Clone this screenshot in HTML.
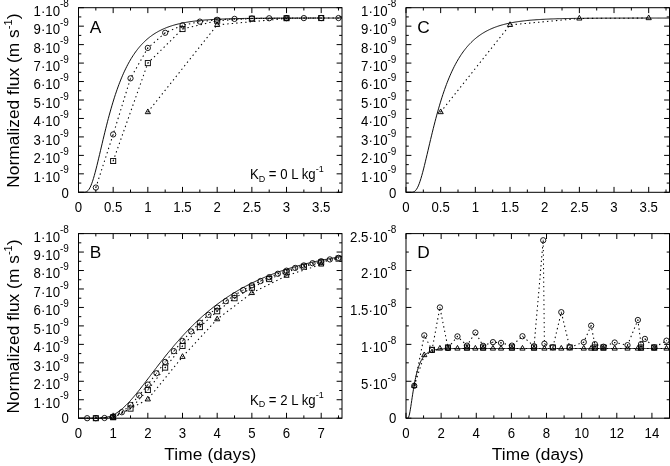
<!DOCTYPE html>
<html><head><meta charset="utf-8"><title>Normalized flux</title>
<style>html,body{margin:0;padding:0;background:#fff}svg{display:block}</style></head>
<body>
<svg width="670" height="466" viewBox="0 0 670 466" font-family="'Liberation Sans', sans-serif" fill="#000">
<rect width="670" height="466" fill="#fff"/>
<g id="panelA">
<path d="M78.50 192.30 L79.38 192.30 L80.26 192.30 L81.14 192.30 L82.01 192.30 L82.89 192.30 L83.77 192.29 L84.65 192.23 L85.53 192.09 L86.41 191.78 L87.28 191.24 L88.16 190.42 L89.04 189.26 L89.92 187.76 L90.80 185.91 L91.67 183.74 L92.55 181.25 L93.43 178.50 L94.31 175.50 L95.19 172.31 L96.07 168.94 L96.95 165.45 L97.82 161.85 L98.70 158.18 L99.58 154.46 L100.46 150.72 L101.34 146.97 L102.22 143.24 L103.09 139.53 L103.97 135.86 L104.85 132.24 L105.73 128.68 L106.61 125.18 L107.48 121.75 L108.36 118.40 L109.24 115.13 L110.12 111.94 L111.00 108.83 L111.88 105.80 L112.75 102.86 L113.63 100.00 L114.51 97.22 L115.39 94.53 L116.27 91.92 L117.15 89.39 L118.03 86.94 L118.90 84.57 L119.78 82.27 L120.66 80.05 L121.54 77.90 L122.42 75.82 L123.29 73.82 L124.17 71.87 L125.05 70.00 L125.93 68.19 L126.81 66.43 L127.69 64.74 L128.56 63.11 L129.44 61.53 L130.32 60.01 L131.20 58.54 L132.08 57.12 L132.96 55.75 L133.84 54.43 L134.71 53.15 L135.59 51.92 L136.47 50.73 L137.35 49.58 L138.23 48.47 L139.11 47.40 L139.98 46.37 L140.86 45.37 L141.74 44.41 L142.62 43.48 L143.50 42.59 L144.38 41.72 L145.25 40.89 L146.13 40.09 L147.01 39.31 L147.89 38.56 L148.77 37.84 L149.64 37.14 L150.52 36.47 L151.40 35.82 L152.28 35.20 L153.16 34.59 L154.04 34.01 L154.91 33.45 L155.79 32.90 L156.67 32.38 L157.55 31.88 L158.43 31.39 L159.31 30.92 L160.19 30.47 L161.06 30.03 L161.94 29.61 L162.82 29.20 L163.70 28.81 L164.58 28.43 L165.45 28.06 L166.33 27.71 L167.21 27.37 L168.09 27.04 L168.97 26.72 L169.85 26.42 L170.73 26.12 L171.60 25.84 L172.48 25.56 L173.36 25.30 L174.24 25.04 L175.12 24.79 L176.00 24.56 L176.87 24.33 L177.75 24.11 L178.63 23.89 L179.51 23.69 L180.39 23.49 L181.26 23.30 L182.14 23.11 L183.02 22.93 L183.90 22.76 L184.78 22.59 L185.66 22.43 L186.53 22.28 L187.41 22.13 L188.29 21.98 L189.17 21.85 L190.05 21.71 L190.93 21.58 L191.81 21.46 L192.68 21.34 L193.56 21.22 L194.44 21.11 L195.32 21.00 L196.20 20.90 L197.07 20.80 L197.95 20.70 L198.83 20.60 L199.71 20.51 L200.59 20.43 L201.47 20.34 L202.34 20.26 L203.22 20.18 L204.10 20.11 L204.98 20.03 L205.86 19.96 L206.74 19.90 L207.62 19.83 L208.49 19.77 L209.37 19.71 L210.25 19.65 L211.13 19.59 L212.01 19.54 L212.89 19.48 L213.76 19.43 L214.64 19.38 L215.52 19.34 L216.40 19.29 L217.28 19.25 L218.16 19.20 L219.03 19.16 L219.91 19.12 L220.79 19.09 L221.67 19.05 L222.55 19.01 L223.42 18.98 L224.30 18.95 L225.18 18.91 L226.06 18.88 L226.94 18.85 L227.82 18.82 L228.69 18.80 L229.57 18.77 L230.45 18.74 L231.33 18.72 L232.21 18.70 L233.09 18.67 L233.97 18.65 L234.84 18.63 L235.72 18.61 L236.60 18.59 L237.48 18.57 L238.36 18.55 L239.24 18.53 L240.11 18.51 L240.99 18.50 L241.87 18.48 L242.75 18.47 L243.63 18.45 L244.50 18.44 L245.38 18.42 L246.26 18.41 L247.14 18.40 L248.02 18.38 L248.90 18.37 L249.78 18.36 L250.65 18.35 L251.53 18.34 L252.41 18.33 L253.29 18.32 L254.17 18.31 L255.05 18.30 L255.92 18.29 L256.80 18.28 L257.68 18.27 L258.56 18.26 L259.44 18.25 L260.31 18.25 L261.19 18.24 L262.07 18.23 L262.95 18.23 L263.83 18.22 L264.71 18.21 L265.59 18.21 L266.46 18.20 L267.34 18.19 L268.22 18.19 L269.10 18.18 L269.98 18.18 L270.85 18.17 L271.73 18.17 L272.61 18.16 L273.49 18.16 L274.37 18.16 L275.25 18.15 L276.12 18.15 L277.00 18.14 L277.88 18.14 L278.76 18.14 L279.64 18.13 L280.52 18.13 L281.39 18.13 L282.27 18.12 L283.15 18.12 L284.03 18.12 L284.91 18.11 L285.79 18.11 L286.66 18.11 L287.54 18.11 L288.42 18.10 L289.30 18.10 L290.18 18.10 L291.06 18.10 L291.94 18.10 L292.81 18.09 L293.69 18.09 L294.57 18.09 L295.45 18.09 L296.33 18.09 L297.20 18.08 L298.08 18.08 L298.96 18.08 L299.84 18.08 L300.72 18.08 L301.60 18.08 L302.48 18.07 L303.35 18.07 L304.23 18.07 L305.11 18.07 L305.99 18.07 L306.87 18.07 L307.75 18.07 L308.62 18.07 L309.50 18.07 L310.38 18.06 L311.26 18.06 L312.14 18.06 L313.01 18.06 L313.89 18.06 L314.77 18.06 L315.65 18.06 L316.53 18.06 L317.41 18.06 L318.28 18.06 L319.16 18.06 L320.04 18.06 L320.92 18.06 L321.80 18.05 L322.68 18.05 L323.56 18.05 L324.43 18.05 L325.31 18.05 L326.19 18.05 L327.07 18.05 L327.95 18.05 L328.83 18.05 L329.70 18.05 L330.58 18.05 L331.46 18.05 L332.34 18.05 L333.22 18.05 L334.10 18.05 L334.97 18.05 L335.85 18.05 L336.73 18.05 L337.61 18.05 L338.49 18.05 L339.37 18.05 L340.24 18.05 L341.12 18.05 L342.00 18.05" stroke="#000" stroke-width="0.95" fill="none" stroke-linejoin="round"/>
<path d="M95.84 187.57 L113.17 134.42 L130.51 78.32 L147.84 47.92 L165.18 32.78 L182.51 25.30 L199.85 21.62 L217.18 19.80 L234.52 18.91 L251.86 18.47 L269.19 18.25 L286.53 18.14 L303.86 18.09 L321.20 18.06 L338.53 18.05" stroke="#000" stroke-width="1.05" fill="none" stroke-dasharray="1.4 3.1" stroke-linejoin="round"/>
<circle cx="95.84" cy="187.57" r="2.65" fill="none" stroke="#000" stroke-width="0.9"/>
<rect x="95.34" y="187.07" width="1" height="1" fill="#000" opacity="0.8"/>
<circle cx="113.17" cy="134.42" r="2.65" fill="none" stroke="#000" stroke-width="0.9"/>
<rect x="112.67" y="133.92" width="1" height="1" fill="#000" opacity="0.8"/>
<circle cx="130.51" cy="78.32" r="2.65" fill="none" stroke="#000" stroke-width="0.9"/>
<rect x="130.01" y="77.82" width="1" height="1" fill="#000" opacity="0.8"/>
<circle cx="147.84" cy="47.92" r="2.65" fill="none" stroke="#000" stroke-width="0.9"/>
<rect x="147.34" y="47.42" width="1" height="1" fill="#000" opacity="0.8"/>
<circle cx="165.18" cy="32.78" r="2.65" fill="none" stroke="#000" stroke-width="0.9"/>
<rect x="164.68" y="32.28" width="1" height="1" fill="#000" opacity="0.8"/>
<circle cx="182.51" cy="25.30" r="2.65" fill="none" stroke="#000" stroke-width="0.9"/>
<rect x="182.01" y="24.80" width="1" height="1" fill="#000" opacity="0.8"/>
<circle cx="199.85" cy="21.62" r="2.65" fill="none" stroke="#000" stroke-width="0.9"/>
<rect x="199.35" y="21.12" width="1" height="1" fill="#000" opacity="0.8"/>
<circle cx="217.18" cy="19.80" r="2.65" fill="none" stroke="#000" stroke-width="0.9"/>
<rect x="216.68" y="19.30" width="1" height="1" fill="#000" opacity="0.8"/>
<circle cx="234.52" cy="18.91" r="2.65" fill="none" stroke="#000" stroke-width="0.9"/>
<rect x="234.02" y="18.41" width="1" height="1" fill="#000" opacity="0.8"/>
<circle cx="251.86" cy="18.47" r="2.65" fill="none" stroke="#000" stroke-width="0.9"/>
<rect x="251.36" y="17.97" width="1" height="1" fill="#000" opacity="0.8"/>
<circle cx="269.19" cy="18.25" r="2.65" fill="none" stroke="#000" stroke-width="0.9"/>
<rect x="268.69" y="17.75" width="1" height="1" fill="#000" opacity="0.8"/>
<circle cx="286.53" cy="18.14" r="2.65" fill="none" stroke="#000" stroke-width="0.9"/>
<rect x="286.03" y="17.64" width="1" height="1" fill="#000" opacity="0.8"/>
<circle cx="303.86" cy="18.09" r="2.65" fill="none" stroke="#000" stroke-width="0.9"/>
<rect x="303.36" y="17.59" width="1" height="1" fill="#000" opacity="0.8"/>
<circle cx="321.20" cy="18.06" r="2.65" fill="none" stroke="#000" stroke-width="0.9"/>
<rect x="320.70" y="17.56" width="1" height="1" fill="#000" opacity="0.8"/>
<circle cx="338.53" cy="18.05" r="2.65" fill="none" stroke="#000" stroke-width="0.9"/>
<rect x="338.03" y="17.55" width="1" height="1" fill="#000" opacity="0.8"/>
<path d="M113.17 161.00 L147.84 63.12 L182.51 29.04 L217.18 20.71 L251.86 18.69 L286.53 18.20 L321.20 18.08" stroke="#000" stroke-width="1.05" fill="none" stroke-dasharray="1.4 3.1" stroke-linejoin="round"/>
<rect x="110.62" y="158.45" width="5.1" height="5.1" fill="none" stroke="#000" stroke-width="0.9"/>
<rect x="112.67" y="160.50" width="1" height="1" fill="#000" opacity="0.8"/>
<rect x="145.29" y="60.57" width="5.1" height="5.1" fill="none" stroke="#000" stroke-width="0.9"/>
<rect x="147.34" y="62.62" width="1" height="1" fill="#000" opacity="0.8"/>
<rect x="179.96" y="26.49" width="5.1" height="5.1" fill="none" stroke="#000" stroke-width="0.9"/>
<rect x="182.01" y="28.54" width="1" height="1" fill="#000" opacity="0.8"/>
<rect x="214.63" y="18.16" width="5.1" height="5.1" fill="none" stroke="#000" stroke-width="0.9"/>
<rect x="216.68" y="20.21" width="1" height="1" fill="#000" opacity="0.8"/>
<rect x="249.31" y="16.14" width="5.1" height="5.1" fill="none" stroke="#000" stroke-width="0.9"/>
<rect x="251.36" y="18.19" width="1" height="1" fill="#000" opacity="0.8"/>
<rect x="283.98" y="15.65" width="5.1" height="5.1" fill="none" stroke="#000" stroke-width="0.9"/>
<rect x="286.03" y="17.70" width="1" height="1" fill="#000" opacity="0.8"/>
<rect x="318.65" y="15.53" width="5.1" height="5.1" fill="none" stroke="#000" stroke-width="0.9"/>
<rect x="320.70" y="17.58" width="1" height="1" fill="#000" opacity="0.8"/>
<path d="M147.84 112.06 L217.18 24.88 L286.53 18.44" stroke="#000" stroke-width="1.05" fill="none" stroke-dasharray="1.4 3.1" stroke-linejoin="round"/>
<path d="M147.84 108.96L150.44 113.66L145.24 113.66Z" fill="none" stroke="#000" stroke-width="0.95"/>
<rect x="147.34" y="111.56" width="1" height="1" fill="#000" opacity="0.8"/>
<path d="M217.18 21.78L219.78 26.48L214.58 26.48Z" fill="none" stroke="#000" stroke-width="0.95"/>
<rect x="216.68" y="24.38" width="1" height="1" fill="#000" opacity="0.8"/>
<path d="M286.53 15.34L289.13 20.04L283.93 20.04Z" fill="none" stroke="#000" stroke-width="0.95"/>
<rect x="286.03" y="17.94" width="1" height="1" fill="#000" opacity="0.8"/>
<rect x="78.5" y="7.7" width="263.50" height="184.60" fill="none" stroke="#000" stroke-width="1"/>
<path d="M78.50 192.3v-5.4M78.50 7.7v5.4M95.84 192.3v-2.8M95.84 7.7v2.8M113.17 192.3v-5.4M113.17 7.7v5.4M130.51 192.3v-2.8M130.51 7.7v2.8M147.84 192.3v-5.4M147.84 7.7v5.4M165.18 192.3v-2.8M165.18 7.7v2.8M182.51 192.3v-5.4M182.51 7.7v5.4M199.85 192.3v-2.8M199.85 7.7v2.8M217.18 192.3v-5.4M217.18 7.7v5.4M234.52 192.3v-2.8M234.52 7.7v2.8M251.86 192.3v-5.4M251.86 7.7v5.4M269.19 192.3v-2.8M269.19 7.7v2.8M286.53 192.3v-5.4M286.53 7.7v5.4M303.86 192.3v-2.8M303.86 7.7v2.8M321.20 192.3v-5.4M321.20 7.7v5.4M338.53 192.3v-2.8M338.53 7.7v2.8M78.5 192.30h5.4M342.0 192.30h-5.4M78.5 183.07h2.8M342.0 183.07h-2.8M78.5 173.84h5.4M342.0 173.84h-5.4M78.5 164.61h2.8M342.0 164.61h-2.8M78.5 155.38h5.4M342.0 155.38h-5.4M78.5 146.15h2.8M342.0 146.15h-2.8M78.5 136.92h5.4M342.0 136.92h-5.4M78.5 127.69h2.8M342.0 127.69h-2.8M78.5 118.46h5.4M342.0 118.46h-5.4M78.5 109.23h2.8M342.0 109.23h-2.8M78.5 100.00h5.4M342.0 100.00h-5.4M78.5 90.77h2.8M342.0 90.77h-2.8M78.5 81.54h5.4M342.0 81.54h-5.4M78.5 72.31h2.8M342.0 72.31h-2.8M78.5 63.08h5.4M342.0 63.08h-5.4M78.5 53.85h2.8M342.0 53.85h-2.8M78.5 44.62h5.4M342.0 44.62h-5.4M78.5 35.39h2.8M342.0 35.39h-2.8M78.5 26.16h5.4M342.0 26.16h-5.4M78.5 16.93h2.8M342.0 16.93h-2.8M78.5 7.70h5.4M342.0 7.70h-5.4" stroke="#000" stroke-width="1" fill="none"/>
<text transform="translate(78.50 211.80) scale(1 1.07)" text-anchor="middle" font-size="13.2">0</text>
<text transform="translate(113.17 211.80) scale(1 1.07)" text-anchor="middle" font-size="13.2">0.5</text>
<text transform="translate(147.84 211.80) scale(1 1.07)" text-anchor="middle" font-size="13.2">1</text>
<text transform="translate(182.51 211.80) scale(1 1.07)" text-anchor="middle" font-size="13.2">1.5</text>
<text transform="translate(217.18 211.80) scale(1 1.07)" text-anchor="middle" font-size="13.2">2</text>
<text transform="translate(251.86 211.80) scale(1 1.07)" text-anchor="middle" font-size="13.2">2.5</text>
<text transform="translate(286.53 211.80) scale(1 1.07)" text-anchor="middle" font-size="13.2">3</text>
<text transform="translate(321.20 211.80) scale(1 1.07)" text-anchor="middle" font-size="13.2">3.5</text>
<text transform="translate(68.90 197.50) scale(1 1.07)" text-anchor="end" font-size="13.2">0</text>
<text transform="translate(68.90 181.74) scale(1 1.07)" text-anchor="end" font-size="13.2">1·10<tspan dy="-7.76" font-size="10">-9</tspan></text>
<text transform="translate(68.90 163.28) scale(1 1.07)" text-anchor="end" font-size="13.2">2·10<tspan dy="-7.76" font-size="10">-9</tspan></text>
<text transform="translate(68.90 144.82) scale(1 1.07)" text-anchor="end" font-size="13.2">3·10<tspan dy="-7.76" font-size="10">-9</tspan></text>
<text transform="translate(68.90 126.36) scale(1 1.07)" text-anchor="end" font-size="13.2">4·10<tspan dy="-7.76" font-size="10">-9</tspan></text>
<text transform="translate(68.90 107.90) scale(1 1.07)" text-anchor="end" font-size="13.2">5·10<tspan dy="-7.76" font-size="10">-9</tspan></text>
<text transform="translate(68.90 89.44) scale(1 1.07)" text-anchor="end" font-size="13.2">6·10<tspan dy="-7.76" font-size="10">-9</tspan></text>
<text transform="translate(68.90 70.98) scale(1 1.07)" text-anchor="end" font-size="13.2">7·10<tspan dy="-7.76" font-size="10">-9</tspan></text>
<text transform="translate(68.90 52.52) scale(1 1.07)" text-anchor="end" font-size="13.2">8·10<tspan dy="-7.76" font-size="10">-9</tspan></text>
<text transform="translate(68.90 34.06) scale(1 1.07)" text-anchor="end" font-size="13.2">9·10<tspan dy="-7.76" font-size="10">-9</tspan></text>
<text transform="translate(68.90 15.60) scale(1 1.07)" text-anchor="end" font-size="13.2">1·10<tspan dy="-7.76" font-size="10">-8</tspan></text>
<text transform="translate(19.3 100.60) rotate(-90)" text-anchor="middle" letter-spacing="0.05" font-size="17.3">Normalized flux (m s<tspan dy="-7.6" font-size="11">-1</tspan><tspan dy="7.6">)</tspan></text>
<text x="89.70" y="32.50" font-size="17.3">A</text>
<text transform="translate(249.90 179.20) scale(1 1.07)" font-size="13.2">K<tspan dy="2.2" font-size="9">D</tspan><tspan dy="-2.2"> = 0 L kg</tspan><tspan dy="-6.6" font-size="9">-1</tspan></text>
</g>
<g id="panelC">
<path d="M406.00 192.30 L406.88 192.30 L407.76 192.30 L408.63 192.30 L409.51 192.30 L410.39 192.30 L411.27 192.29 L412.15 192.23 L413.03 192.09 L413.90 191.78 L414.78 191.24 L415.66 190.42 L416.54 189.26 L417.42 187.76 L418.30 185.91 L419.18 183.74 L420.05 181.25 L420.93 178.50 L421.81 175.50 L422.69 172.31 L423.57 168.94 L424.44 165.45 L425.32 161.85 L426.20 158.18 L427.08 154.46 L427.96 150.72 L428.84 146.97 L429.71 143.24 L430.59 139.53 L431.47 135.86 L432.35 132.24 L433.23 128.68 L434.11 125.18 L434.99 121.75 L435.86 118.40 L436.74 115.13 L437.62 111.94 L438.50 108.83 L439.38 105.80 L440.25 102.86 L441.13 100.00 L442.01 97.22 L442.89 94.53 L443.77 91.92 L444.65 89.39 L445.52 86.94 L446.40 84.57 L447.28 82.27 L448.16 80.05 L449.04 77.90 L449.92 75.82 L450.80 73.82 L451.67 71.87 L452.55 70.00 L453.43 68.19 L454.31 66.43 L455.19 64.74 L456.06 63.11 L456.94 61.53 L457.82 60.01 L458.70 58.54 L459.58 57.12 L460.46 55.75 L461.33 54.43 L462.21 53.15 L463.09 51.92 L463.97 50.73 L464.85 49.58 L465.73 48.47 L466.61 47.40 L467.48 46.37 L468.36 45.37 L469.24 44.41 L470.12 43.48 L471.00 42.59 L471.88 41.72 L472.75 40.89 L473.63 40.09 L474.51 39.31 L475.39 38.56 L476.27 37.84 L477.14 37.14 L478.02 36.47 L478.90 35.82 L479.78 35.20 L480.66 34.59 L481.54 34.01 L482.41 33.45 L483.29 32.90 L484.17 32.38 L485.05 31.88 L485.93 31.39 L486.81 30.92 L487.69 30.47 L488.56 30.03 L489.44 29.61 L490.32 29.20 L491.20 28.81 L492.08 28.43 L492.95 28.06 L493.83 27.71 L494.71 27.37 L495.59 27.04 L496.47 26.72 L497.35 26.42 L498.23 26.12 L499.10 25.84 L499.98 25.56 L500.86 25.30 L501.74 25.04 L502.62 24.79 L503.50 24.56 L504.37 24.33 L505.25 24.11 L506.13 23.89 L507.01 23.69 L507.89 23.49 L508.76 23.30 L509.64 23.11 L510.52 22.93 L511.40 22.76 L512.28 22.59 L513.16 22.43 L514.03 22.28 L514.91 22.13 L515.79 21.98 L516.67 21.85 L517.55 21.71 L518.43 21.58 L519.30 21.46 L520.18 21.34 L521.06 21.22 L521.94 21.11 L522.82 21.00 L523.70 20.90 L524.58 20.80 L525.45 20.70 L526.33 20.60 L527.21 20.51 L528.09 20.43 L528.97 20.34 L529.85 20.26 L530.72 20.18 L531.60 20.11 L532.48 20.03 L533.36 19.96 L534.24 19.90 L535.12 19.83 L535.99 19.77 L536.87 19.71 L537.75 19.65 L538.63 19.59 L539.51 19.54 L540.38 19.48 L541.26 19.43 L542.14 19.38 L543.02 19.34 L543.90 19.29 L544.78 19.25 L545.65 19.20 L546.53 19.16 L547.41 19.12 L548.29 19.09 L549.17 19.05 L550.05 19.01 L550.92 18.98 L551.80 18.95 L552.68 18.91 L553.56 18.88 L554.44 18.85 L555.32 18.82 L556.19 18.80 L557.07 18.77 L557.95 18.74 L558.83 18.72 L559.71 18.70 L560.59 18.67 L561.47 18.65 L562.34 18.63 L563.22 18.61 L564.10 18.59 L564.98 18.57 L565.86 18.55 L566.74 18.53 L567.61 18.51 L568.49 18.50 L569.37 18.48 L570.25 18.47 L571.13 18.45 L572.00 18.44 L572.88 18.42 L573.76 18.41 L574.64 18.40 L575.52 18.38 L576.40 18.37 L577.27 18.36 L578.15 18.35 L579.03 18.34 L579.91 18.33 L580.79 18.32 L581.67 18.31 L582.55 18.30 L583.42 18.29 L584.30 18.28 L585.18 18.27 L586.06 18.26 L586.94 18.25 L587.82 18.25 L588.69 18.24 L589.57 18.23 L590.45 18.23 L591.33 18.22 L592.21 18.21 L593.09 18.21 L593.96 18.20 L594.84 18.19 L595.72 18.19 L596.60 18.18 L597.48 18.18 L598.36 18.17 L599.23 18.17 L600.11 18.16 L600.99 18.16 L601.87 18.16 L602.75 18.15 L603.62 18.15 L604.50 18.14 L605.38 18.14 L606.26 18.14 L607.14 18.13 L608.02 18.13 L608.89 18.13 L609.77 18.12 L610.65 18.12 L611.53 18.12 L612.41 18.11 L613.29 18.11 L614.16 18.11 L615.04 18.11 L615.92 18.10 L616.80 18.10 L617.68 18.10 L618.56 18.10 L619.43 18.10 L620.31 18.09 L621.19 18.09 L622.07 18.09 L622.95 18.09 L623.83 18.09 L624.70 18.08 L625.58 18.08 L626.46 18.08 L627.34 18.08 L628.22 18.08 L629.10 18.08 L629.98 18.07 L630.85 18.07 L631.73 18.07 L632.61 18.07 L633.49 18.07 L634.37 18.07 L635.25 18.07 L636.12 18.07 L637.00 18.07 L637.88 18.06 L638.76 18.06 L639.64 18.06 L640.51 18.06 L641.39 18.06 L642.27 18.06 L643.15 18.06 L644.03 18.06 L644.91 18.06 L645.78 18.06 L646.66 18.06 L647.54 18.06 L648.42 18.06 L649.30 18.05 L650.18 18.05 L651.06 18.05 L651.93 18.05 L652.81 18.05 L653.69 18.05 L654.57 18.05 L655.45 18.05 L656.33 18.05 L657.20 18.05 L658.08 18.05 L658.96 18.05 L659.84 18.05 L660.72 18.05 L661.60 18.05 L662.47 18.05 L663.35 18.05 L664.23 18.05 L665.11 18.05 L665.99 18.05 L666.87 18.05 L667.74 18.05 L668.62 18.05 L669.50 18.05" stroke="#000" stroke-width="0.95" fill="none" stroke-linejoin="round"/>
<path d="M440.67 112.06 L510.01 24.88 L579.36 18.44 L648.70 18.06" stroke="#000" stroke-width="1.05" fill="none" stroke-dasharray="1.4 3.1" stroke-linejoin="round"/>
<path d="M440.67 108.96L443.27 113.66L438.07 113.66Z" fill="none" stroke="#000" stroke-width="0.95"/>
<rect x="440.17" y="111.56" width="1" height="1" fill="#000" opacity="0.8"/>
<path d="M510.01 21.78L512.61 26.48L507.41 26.48Z" fill="none" stroke="#000" stroke-width="0.95"/>
<rect x="509.51" y="24.38" width="1" height="1" fill="#000" opacity="0.8"/>
<path d="M579.36 15.34L581.96 20.04L576.76 20.04Z" fill="none" stroke="#000" stroke-width="0.95"/>
<rect x="578.86" y="17.94" width="1" height="1" fill="#000" opacity="0.8"/>
<path d="M648.70 14.96L651.30 19.66L646.10 19.66Z" fill="none" stroke="#000" stroke-width="0.95"/>
<rect x="648.20" y="17.56" width="1" height="1" fill="#000" opacity="0.8"/>
<rect x="406.0" y="7.7" width="263.50" height="184.60" fill="none" stroke="#000" stroke-width="1"/>
<path d="M406.00 192.3v-5.4M406.00 7.7v5.4M423.34 192.3v-2.8M423.34 7.7v2.8M440.67 192.3v-5.4M440.67 7.7v5.4M458.01 192.3v-2.8M458.01 7.7v2.8M475.34 192.3v-5.4M475.34 7.7v5.4M492.68 192.3v-2.8M492.68 7.7v2.8M510.01 192.3v-5.4M510.01 7.7v5.4M527.35 192.3v-2.8M527.35 7.7v2.8M544.68 192.3v-5.4M544.68 7.7v5.4M562.02 192.3v-2.8M562.02 7.7v2.8M579.36 192.3v-5.4M579.36 7.7v5.4M596.69 192.3v-2.8M596.69 7.7v2.8M614.03 192.3v-5.4M614.03 7.7v5.4M631.36 192.3v-2.8M631.36 7.7v2.8M648.70 192.3v-5.4M648.70 7.7v5.4M666.03 192.3v-2.8M666.03 7.7v2.8M406.0 192.30h5.4M669.5 192.30h-5.4M406.0 183.07h2.8M669.5 183.07h-2.8M406.0 173.84h5.4M669.5 173.84h-5.4M406.0 164.61h2.8M669.5 164.61h-2.8M406.0 155.38h5.4M669.5 155.38h-5.4M406.0 146.15h2.8M669.5 146.15h-2.8M406.0 136.92h5.4M669.5 136.92h-5.4M406.0 127.69h2.8M669.5 127.69h-2.8M406.0 118.46h5.4M669.5 118.46h-5.4M406.0 109.23h2.8M669.5 109.23h-2.8M406.0 100.00h5.4M669.5 100.00h-5.4M406.0 90.77h2.8M669.5 90.77h-2.8M406.0 81.54h5.4M669.5 81.54h-5.4M406.0 72.31h2.8M669.5 72.31h-2.8M406.0 63.08h5.4M669.5 63.08h-5.4M406.0 53.85h2.8M669.5 53.85h-2.8M406.0 44.62h5.4M669.5 44.62h-5.4M406.0 35.39h2.8M669.5 35.39h-2.8M406.0 26.16h5.4M669.5 26.16h-5.4M406.0 16.93h2.8M669.5 16.93h-2.8M406.0 7.70h5.4M669.5 7.70h-5.4" stroke="#000" stroke-width="1" fill="none"/>
<text transform="translate(406.00 211.80) scale(1 1.07)" text-anchor="middle" font-size="13.2">0</text>
<text transform="translate(440.67 211.80) scale(1 1.07)" text-anchor="middle" font-size="13.2">0.5</text>
<text transform="translate(475.34 211.80) scale(1 1.07)" text-anchor="middle" font-size="13.2">1</text>
<text transform="translate(510.01 211.80) scale(1 1.07)" text-anchor="middle" font-size="13.2">1.5</text>
<text transform="translate(544.68 211.80) scale(1 1.07)" text-anchor="middle" font-size="13.2">2</text>
<text transform="translate(579.36 211.80) scale(1 1.07)" text-anchor="middle" font-size="13.2">2.5</text>
<text transform="translate(614.03 211.80) scale(1 1.07)" text-anchor="middle" font-size="13.2">3</text>
<text transform="translate(648.70 211.80) scale(1 1.07)" text-anchor="middle" font-size="13.2">3.5</text>
<text transform="translate(396.40 197.50) scale(1 1.07)" text-anchor="end" font-size="13.2">0</text>
<text transform="translate(396.40 181.74) scale(1 1.07)" text-anchor="end" font-size="13.2">1·10<tspan dy="-7.76" font-size="10">-9</tspan></text>
<text transform="translate(396.40 163.28) scale(1 1.07)" text-anchor="end" font-size="13.2">2·10<tspan dy="-7.76" font-size="10">-9</tspan></text>
<text transform="translate(396.40 144.82) scale(1 1.07)" text-anchor="end" font-size="13.2">3·10<tspan dy="-7.76" font-size="10">-9</tspan></text>
<text transform="translate(396.40 126.36) scale(1 1.07)" text-anchor="end" font-size="13.2">4·10<tspan dy="-7.76" font-size="10">-9</tspan></text>
<text transform="translate(396.40 107.90) scale(1 1.07)" text-anchor="end" font-size="13.2">5·10<tspan dy="-7.76" font-size="10">-9</tspan></text>
<text transform="translate(396.40 89.44) scale(1 1.07)" text-anchor="end" font-size="13.2">6·10<tspan dy="-7.76" font-size="10">-9</tspan></text>
<text transform="translate(396.40 70.98) scale(1 1.07)" text-anchor="end" font-size="13.2">7·10<tspan dy="-7.76" font-size="10">-9</tspan></text>
<text transform="translate(396.40 52.52) scale(1 1.07)" text-anchor="end" font-size="13.2">8·10<tspan dy="-7.76" font-size="10">-9</tspan></text>
<text transform="translate(396.40 34.06) scale(1 1.07)" text-anchor="end" font-size="13.2">9·10<tspan dy="-7.76" font-size="10">-9</tspan></text>
<text transform="translate(396.40 15.60) scale(1 1.07)" text-anchor="end" font-size="13.2">1·10<tspan dy="-7.76" font-size="10">-8</tspan></text>
<text x="417.20" y="32.50" font-size="17.3">C</text>
</g>
<g id="panelB">
<path d="M78.50 418.20 L79.38 418.20 L80.26 418.20 L81.14 418.20 L82.01 418.20 L82.89 418.20 L83.77 418.20 L84.65 418.20 L85.53 418.20 L86.41 418.20 L87.28 418.20 L88.16 418.20 L89.04 418.20 L89.92 418.20 L90.80 418.20 L91.67 418.20 L92.55 418.20 L93.43 418.20 L94.31 418.19 L95.19 418.19 L96.07 418.18 L96.95 418.17 L97.82 418.15 L98.70 418.12 L99.58 418.09 L100.46 418.04 L101.34 417.98 L102.22 417.91 L103.09 417.81 L103.97 417.70 L104.85 417.56 L105.73 417.40 L106.61 417.22 L107.48 417.01 L108.36 416.77 L109.24 416.50 L110.12 416.20 L111.00 415.86 L111.88 415.50 L112.75 415.10 L113.63 414.67 L114.51 414.21 L115.39 413.71 L116.27 413.18 L117.15 412.61 L118.03 412.02 L118.90 411.39 L119.78 410.73 L120.66 410.04 L121.54 409.32 L122.42 408.58 L123.29 407.80 L124.17 407.00 L125.05 406.17 L125.93 405.32 L126.81 404.44 L127.69 403.54 L128.56 402.62 L129.44 401.68 L130.32 400.71 L131.20 399.73 L132.08 398.73 L132.96 397.72 L133.84 396.69 L134.71 395.65 L135.59 394.59 L136.47 393.52 L137.35 392.44 L138.23 391.35 L139.11 390.24 L139.98 389.13 L140.86 388.02 L141.74 386.89 L142.62 385.76 L143.50 384.62 L144.38 383.48 L145.25 382.33 L146.13 381.18 L147.01 380.03 L147.89 378.88 L148.77 377.72 L149.64 376.56 L150.52 375.40 L151.40 374.25 L152.28 373.09 L153.16 371.93 L154.04 370.78 L154.91 369.63 L155.79 368.48 L156.67 367.33 L157.55 366.19 L158.43 365.05 L159.31 363.91 L160.19 362.78 L161.06 361.65 L161.94 360.53 L162.82 359.41 L163.70 358.30 L164.58 357.19 L165.45 356.09 L166.33 354.99 L167.21 353.90 L168.09 352.82 L168.97 351.74 L169.85 350.67 L170.73 349.61 L171.60 348.55 L172.48 347.50 L173.36 346.46 L174.24 345.42 L175.12 344.40 L176.00 343.38 L176.87 342.36 L177.75 341.36 L178.63 340.36 L179.51 339.37 L180.39 338.39 L181.26 337.42 L182.14 336.45 L183.02 335.49 L183.90 334.54 L184.78 333.60 L185.66 332.66 L186.53 331.74 L187.41 330.82 L188.29 329.91 L189.17 329.01 L190.05 328.11 L190.93 327.23 L191.81 326.35 L192.68 325.48 L193.56 324.62 L194.44 323.76 L195.32 322.92 L196.20 322.08 L197.07 321.25 L197.95 320.42 L198.83 319.61 L199.71 318.80 L200.59 318.00 L201.47 317.21 L202.34 316.43 L203.22 315.65 L204.10 314.88 L204.98 314.12 L205.86 313.37 L206.74 312.62 L207.62 311.88 L208.49 311.15 L209.37 310.43 L210.25 309.71 L211.13 309.00 L212.01 308.30 L212.89 307.60 L213.76 306.92 L214.64 306.24 L215.52 305.56 L216.40 304.89 L217.28 304.23 L218.16 303.58 L219.03 302.93 L219.91 302.29 L220.79 301.66 L221.67 301.03 L222.55 300.41 L223.42 299.80 L224.30 299.19 L225.18 298.59 L226.06 298.00 L226.94 297.41 L227.82 296.82 L228.69 296.25 L229.57 295.68 L230.45 295.11 L231.33 294.56 L232.21 294.00 L233.09 293.46 L233.97 292.92 L234.84 292.38 L235.72 291.85 L236.60 291.33 L237.48 290.81 L238.36 290.30 L239.24 289.79 L240.11 289.29 L240.99 288.79 L241.87 288.30 L242.75 287.82 L243.63 287.34 L244.50 286.86 L245.38 286.39 L246.26 285.93 L247.14 285.47 L248.02 285.01 L248.90 284.56 L249.78 284.12 L250.65 283.68 L251.53 283.24 L252.41 282.81 L253.29 282.39 L254.17 281.96 L255.05 281.55 L255.92 281.13 L256.80 280.73 L257.68 280.32 L258.56 279.92 L259.44 279.53 L260.31 279.14 L261.19 278.75 L262.07 278.37 L262.95 277.99 L263.83 277.62 L264.71 277.25 L265.59 276.88 L266.46 276.52 L267.34 276.16 L268.22 275.81 L269.10 275.46 L269.98 275.11 L270.85 274.77 L271.73 274.43 L272.61 274.10 L273.49 273.76 L274.37 273.44 L275.25 273.11 L276.12 272.79 L277.00 272.47 L277.88 272.16 L278.76 271.85 L279.64 271.54 L280.52 271.24 L281.39 270.94 L282.27 270.64 L283.15 270.35 L284.03 270.06 L284.91 269.77 L285.79 269.49 L286.66 269.21 L287.54 268.93 L288.42 268.65 L289.30 268.38 L290.18 268.11 L291.06 267.85 L291.94 267.58 L292.81 267.32 L293.69 267.07 L294.57 266.81 L295.45 266.56 L296.33 266.31 L297.20 266.07 L298.08 265.82 L298.96 265.58 L299.84 265.34 L300.72 265.11 L301.60 264.88 L302.48 264.64 L303.35 264.42 L304.23 264.19 L305.11 263.97 L305.99 263.75 L306.87 263.53 L307.75 263.31 L308.62 263.10 L309.50 262.89 L310.38 262.68 L311.26 262.48 L312.14 262.27 L313.01 262.07 L313.89 261.87 L314.77 261.67 L315.65 261.48 L316.53 261.28 L317.41 261.09 L318.28 260.91 L319.16 260.72 L320.04 260.53 L320.92 260.35 L321.80 260.17 L322.68 259.99 L323.56 259.82 L324.43 259.64 L325.31 259.47 L326.19 259.30 L327.07 259.13 L327.95 258.96 L328.83 258.79 L329.70 258.63 L330.58 258.47 L331.46 258.31 L332.34 258.15 L333.22 258.00 L334.10 257.84 L334.97 257.69 L335.85 257.54 L336.73 257.39 L337.61 257.24 L338.49 257.09 L339.37 256.95 L340.24 256.80 L341.12 256.66 L342.00 256.52" stroke="#000" stroke-width="0.95" fill="none" stroke-linejoin="round"/>
<path d="M87.17 418.20 L95.84 418.20 L104.50 418.01 L113.17 416.50 L121.84 412.24 L130.51 404.98 L139.17 395.44 L147.84 384.59 L156.51 373.23 L165.18 361.95 L173.85 351.11 L182.51 340.90 L191.18 331.44 L199.85 322.76 L208.52 314.84 L217.18 307.66 L225.85 301.17 L234.52 295.31 L243.19 290.03 L251.86 285.29 L260.52 281.03 L269.19 277.20 L277.86 273.77 L286.53 270.68 L295.19 267.92 L303.86 265.44 L312.53 263.21 L321.20 261.22 L329.87 259.43 L338.53 257.83" stroke="#000" stroke-width="1.05" fill="none" stroke-dasharray="1.4 3.1" stroke-linejoin="round"/>
<circle cx="87.17" cy="418.20" r="2.65" fill="none" stroke="#000" stroke-width="0.9"/>
<rect x="86.67" y="417.70" width="1" height="1" fill="#000" opacity="0.8"/>
<circle cx="95.84" cy="418.20" r="2.65" fill="none" stroke="#000" stroke-width="0.9"/>
<rect x="95.34" y="417.70" width="1" height="1" fill="#000" opacity="0.8"/>
<circle cx="104.50" cy="418.01" r="2.65" fill="none" stroke="#000" stroke-width="0.9"/>
<rect x="104.00" y="417.51" width="1" height="1" fill="#000" opacity="0.8"/>
<circle cx="113.17" cy="416.50" r="2.65" fill="none" stroke="#000" stroke-width="0.9"/>
<rect x="112.67" y="416.00" width="1" height="1" fill="#000" opacity="0.8"/>
<circle cx="121.84" cy="412.24" r="2.65" fill="none" stroke="#000" stroke-width="0.9"/>
<rect x="121.34" y="411.74" width="1" height="1" fill="#000" opacity="0.8"/>
<circle cx="130.51" cy="404.98" r="2.65" fill="none" stroke="#000" stroke-width="0.9"/>
<rect x="130.01" y="404.48" width="1" height="1" fill="#000" opacity="0.8"/>
<circle cx="139.17" cy="395.44" r="2.65" fill="none" stroke="#000" stroke-width="0.9"/>
<rect x="138.67" y="394.94" width="1" height="1" fill="#000" opacity="0.8"/>
<circle cx="147.84" cy="384.59" r="2.65" fill="none" stroke="#000" stroke-width="0.9"/>
<rect x="147.34" y="384.09" width="1" height="1" fill="#000" opacity="0.8"/>
<circle cx="156.51" cy="373.23" r="2.65" fill="none" stroke="#000" stroke-width="0.9"/>
<rect x="156.01" y="372.73" width="1" height="1" fill="#000" opacity="0.8"/>
<circle cx="165.18" cy="361.95" r="2.65" fill="none" stroke="#000" stroke-width="0.9"/>
<rect x="164.68" y="361.45" width="1" height="1" fill="#000" opacity="0.8"/>
<circle cx="173.85" cy="351.11" r="2.65" fill="none" stroke="#000" stroke-width="0.9"/>
<rect x="173.35" y="350.61" width="1" height="1" fill="#000" opacity="0.8"/>
<circle cx="182.51" cy="340.90" r="2.65" fill="none" stroke="#000" stroke-width="0.9"/>
<rect x="182.01" y="340.40" width="1" height="1" fill="#000" opacity="0.8"/>
<circle cx="191.18" cy="331.44" r="2.65" fill="none" stroke="#000" stroke-width="0.9"/>
<rect x="190.68" y="330.94" width="1" height="1" fill="#000" opacity="0.8"/>
<circle cx="199.85" cy="322.76" r="2.65" fill="none" stroke="#000" stroke-width="0.9"/>
<rect x="199.35" y="322.26" width="1" height="1" fill="#000" opacity="0.8"/>
<circle cx="208.52" cy="314.84" r="2.65" fill="none" stroke="#000" stroke-width="0.9"/>
<rect x="208.02" y="314.34" width="1" height="1" fill="#000" opacity="0.8"/>
<circle cx="217.18" cy="307.66" r="2.65" fill="none" stroke="#000" stroke-width="0.9"/>
<rect x="216.68" y="307.16" width="1" height="1" fill="#000" opacity="0.8"/>
<circle cx="225.85" cy="301.17" r="2.65" fill="none" stroke="#000" stroke-width="0.9"/>
<rect x="225.35" y="300.67" width="1" height="1" fill="#000" opacity="0.8"/>
<circle cx="234.52" cy="295.31" r="2.65" fill="none" stroke="#000" stroke-width="0.9"/>
<rect x="234.02" y="294.81" width="1" height="1" fill="#000" opacity="0.8"/>
<circle cx="243.19" cy="290.03" r="2.65" fill="none" stroke="#000" stroke-width="0.9"/>
<rect x="242.69" y="289.53" width="1" height="1" fill="#000" opacity="0.8"/>
<circle cx="251.86" cy="285.29" r="2.65" fill="none" stroke="#000" stroke-width="0.9"/>
<rect x="251.36" y="284.79" width="1" height="1" fill="#000" opacity="0.8"/>
<circle cx="260.52" cy="281.03" r="2.65" fill="none" stroke="#000" stroke-width="0.9"/>
<rect x="260.02" y="280.53" width="1" height="1" fill="#000" opacity="0.8"/>
<circle cx="269.19" cy="277.20" r="2.65" fill="none" stroke="#000" stroke-width="0.9"/>
<rect x="268.69" y="276.70" width="1" height="1" fill="#000" opacity="0.8"/>
<circle cx="277.86" cy="273.77" r="2.65" fill="none" stroke="#000" stroke-width="0.9"/>
<rect x="277.36" y="273.27" width="1" height="1" fill="#000" opacity="0.8"/>
<circle cx="286.53" cy="270.68" r="2.65" fill="none" stroke="#000" stroke-width="0.9"/>
<rect x="286.03" y="270.18" width="1" height="1" fill="#000" opacity="0.8"/>
<circle cx="295.19" cy="267.92" r="2.65" fill="none" stroke="#000" stroke-width="0.9"/>
<rect x="294.69" y="267.42" width="1" height="1" fill="#000" opacity="0.8"/>
<circle cx="303.86" cy="265.44" r="2.65" fill="none" stroke="#000" stroke-width="0.9"/>
<rect x="303.36" y="264.94" width="1" height="1" fill="#000" opacity="0.8"/>
<circle cx="312.53" cy="263.21" r="2.65" fill="none" stroke="#000" stroke-width="0.9"/>
<rect x="312.03" y="262.71" width="1" height="1" fill="#000" opacity="0.8"/>
<circle cx="321.20" cy="261.22" r="2.65" fill="none" stroke="#000" stroke-width="0.9"/>
<rect x="320.70" y="260.72" width="1" height="1" fill="#000" opacity="0.8"/>
<circle cx="329.87" cy="259.43" r="2.65" fill="none" stroke="#000" stroke-width="0.9"/>
<rect x="329.37" y="258.93" width="1" height="1" fill="#000" opacity="0.8"/>
<circle cx="338.53" cy="257.83" r="2.65" fill="none" stroke="#000" stroke-width="0.9"/>
<rect x="338.03" y="257.33" width="1" height="1" fill="#000" opacity="0.8"/>
<path d="M95.84 418.20 L113.17 417.25 L130.51 408.61 L147.84 390.01 L165.18 367.59 L182.51 346.00 L199.85 327.10 L217.18 311.25 L234.52 298.24 L251.86 287.66 L269.19 279.11 L286.53 272.22 L303.86 266.68 L321.20 262.22 L338.53 258.63" stroke="#000" stroke-width="1.05" fill="none" stroke-dasharray="1.4 3.1" stroke-linejoin="round"/>
<rect x="93.29" y="415.65" width="5.1" height="5.1" fill="none" stroke="#000" stroke-width="0.9"/>
<rect x="95.34" y="417.70" width="1" height="1" fill="#000" opacity="0.8"/>
<rect x="110.62" y="414.70" width="5.1" height="5.1" fill="none" stroke="#000" stroke-width="0.9"/>
<rect x="112.67" y="416.75" width="1" height="1" fill="#000" opacity="0.8"/>
<rect x="127.96" y="406.06" width="5.1" height="5.1" fill="none" stroke="#000" stroke-width="0.9"/>
<rect x="130.01" y="408.11" width="1" height="1" fill="#000" opacity="0.8"/>
<rect x="145.29" y="387.46" width="5.1" height="5.1" fill="none" stroke="#000" stroke-width="0.9"/>
<rect x="147.34" y="389.51" width="1" height="1" fill="#000" opacity="0.8"/>
<rect x="162.63" y="365.04" width="5.1" height="5.1" fill="none" stroke="#000" stroke-width="0.9"/>
<rect x="164.68" y="367.09" width="1" height="1" fill="#000" opacity="0.8"/>
<rect x="179.96" y="343.45" width="5.1" height="5.1" fill="none" stroke="#000" stroke-width="0.9"/>
<rect x="182.01" y="345.50" width="1" height="1" fill="#000" opacity="0.8"/>
<rect x="197.30" y="324.55" width="5.1" height="5.1" fill="none" stroke="#000" stroke-width="0.9"/>
<rect x="199.35" y="326.60" width="1" height="1" fill="#000" opacity="0.8"/>
<rect x="214.63" y="308.70" width="5.1" height="5.1" fill="none" stroke="#000" stroke-width="0.9"/>
<rect x="216.68" y="310.75" width="1" height="1" fill="#000" opacity="0.8"/>
<rect x="231.97" y="295.69" width="5.1" height="5.1" fill="none" stroke="#000" stroke-width="0.9"/>
<rect x="234.02" y="297.74" width="1" height="1" fill="#000" opacity="0.8"/>
<rect x="249.31" y="285.11" width="5.1" height="5.1" fill="none" stroke="#000" stroke-width="0.9"/>
<rect x="251.36" y="287.16" width="1" height="1" fill="#000" opacity="0.8"/>
<rect x="266.64" y="276.56" width="5.1" height="5.1" fill="none" stroke="#000" stroke-width="0.9"/>
<rect x="268.69" y="278.61" width="1" height="1" fill="#000" opacity="0.8"/>
<rect x="283.98" y="269.67" width="5.1" height="5.1" fill="none" stroke="#000" stroke-width="0.9"/>
<rect x="286.03" y="271.72" width="1" height="1" fill="#000" opacity="0.8"/>
<rect x="301.31" y="264.13" width="5.1" height="5.1" fill="none" stroke="#000" stroke-width="0.9"/>
<rect x="303.36" y="266.18" width="1" height="1" fill="#000" opacity="0.8"/>
<rect x="318.65" y="259.67" width="5.1" height="5.1" fill="none" stroke="#000" stroke-width="0.9"/>
<rect x="320.70" y="261.72" width="1" height="1" fill="#000" opacity="0.8"/>
<rect x="335.98" y="256.08" width="5.1" height="5.1" fill="none" stroke="#000" stroke-width="0.9"/>
<rect x="338.03" y="258.13" width="1" height="1" fill="#000" opacity="0.8"/>
<path d="M113.17 417.73 L147.84 399.31 L182.51 356.80 L217.18 319.18 L251.86 292.95 L286.53 275.67 L321.20 264.45" stroke="#000" stroke-width="1.05" fill="none" stroke-dasharray="1.4 3.1" stroke-linejoin="round"/>
<path d="M113.17 414.63L115.77 419.33L110.57 419.33Z" fill="none" stroke="#000" stroke-width="0.95"/>
<rect x="112.67" y="417.23" width="1" height="1" fill="#000" opacity="0.8"/>
<path d="M147.84 396.21L150.44 400.91L145.24 400.91Z" fill="none" stroke="#000" stroke-width="0.95"/>
<rect x="147.34" y="398.81" width="1" height="1" fill="#000" opacity="0.8"/>
<path d="M182.51 353.70L185.11 358.40L179.91 358.40Z" fill="none" stroke="#000" stroke-width="0.95"/>
<rect x="182.01" y="356.30" width="1" height="1" fill="#000" opacity="0.8"/>
<path d="M217.18 316.08L219.78 320.78L214.58 320.78Z" fill="none" stroke="#000" stroke-width="0.95"/>
<rect x="216.68" y="318.68" width="1" height="1" fill="#000" opacity="0.8"/>
<path d="M251.86 289.85L254.46 294.55L249.26 294.55Z" fill="none" stroke="#000" stroke-width="0.95"/>
<rect x="251.36" y="292.45" width="1" height="1" fill="#000" opacity="0.8"/>
<path d="M286.53 272.57L289.13 277.27L283.93 277.27Z" fill="none" stroke="#000" stroke-width="0.95"/>
<rect x="286.03" y="275.17" width="1" height="1" fill="#000" opacity="0.8"/>
<path d="M321.20 261.35L323.80 266.05L318.60 266.05Z" fill="none" stroke="#000" stroke-width="0.95"/>
<rect x="320.70" y="263.95" width="1" height="1" fill="#000" opacity="0.8"/>
<rect x="78.5" y="233.6" width="263.50" height="184.60" fill="none" stroke="#000" stroke-width="1"/>
<path d="M78.50 418.2v-5.4M78.50 233.6v5.4M95.84 418.2v-2.8M95.84 233.6v2.8M113.17 418.2v-5.4M113.17 233.6v5.4M130.51 418.2v-2.8M130.51 233.6v2.8M147.84 418.2v-5.4M147.84 233.6v5.4M165.18 418.2v-2.8M165.18 233.6v2.8M182.51 418.2v-5.4M182.51 233.6v5.4M199.85 418.2v-2.8M199.85 233.6v2.8M217.18 418.2v-5.4M217.18 233.6v5.4M234.52 418.2v-2.8M234.52 233.6v2.8M251.86 418.2v-5.4M251.86 233.6v5.4M269.19 418.2v-2.8M269.19 233.6v2.8M286.53 418.2v-5.4M286.53 233.6v5.4M303.86 418.2v-2.8M303.86 233.6v2.8M321.20 418.2v-5.4M321.20 233.6v5.4M338.53 418.2v-2.8M338.53 233.6v2.8M78.5 418.20h5.4M342.0 418.20h-5.4M78.5 408.97h2.8M342.0 408.97h-2.8M78.5 399.74h5.4M342.0 399.74h-5.4M78.5 390.51h2.8M342.0 390.51h-2.8M78.5 381.28h5.4M342.0 381.28h-5.4M78.5 372.05h2.8M342.0 372.05h-2.8M78.5 362.82h5.4M342.0 362.82h-5.4M78.5 353.59h2.8M342.0 353.59h-2.8M78.5 344.36h5.4M342.0 344.36h-5.4M78.5 335.13h2.8M342.0 335.13h-2.8M78.5 325.90h5.4M342.0 325.90h-5.4M78.5 316.67h2.8M342.0 316.67h-2.8M78.5 307.44h5.4M342.0 307.44h-5.4M78.5 298.21h2.8M342.0 298.21h-2.8M78.5 288.98h5.4M342.0 288.98h-5.4M78.5 279.75h2.8M342.0 279.75h-2.8M78.5 270.52h5.4M342.0 270.52h-5.4M78.5 261.29h2.8M342.0 261.29h-2.8M78.5 252.06h5.4M342.0 252.06h-5.4M78.5 242.83h2.8M342.0 242.83h-2.8M78.5 233.60h5.4M342.0 233.60h-5.4" stroke="#000" stroke-width="1" fill="none"/>
<text transform="translate(78.50 437.70) scale(1 1.07)" text-anchor="middle" font-size="13.2">0</text>
<text transform="translate(113.17 437.70) scale(1 1.07)" text-anchor="middle" font-size="13.2">1</text>
<text transform="translate(147.84 437.70) scale(1 1.07)" text-anchor="middle" font-size="13.2">2</text>
<text transform="translate(182.51 437.70) scale(1 1.07)" text-anchor="middle" font-size="13.2">3</text>
<text transform="translate(217.18 437.70) scale(1 1.07)" text-anchor="middle" font-size="13.2">4</text>
<text transform="translate(251.86 437.70) scale(1 1.07)" text-anchor="middle" font-size="13.2">5</text>
<text transform="translate(286.53 437.70) scale(1 1.07)" text-anchor="middle" font-size="13.2">6</text>
<text transform="translate(321.20 437.70) scale(1 1.07)" text-anchor="middle" font-size="13.2">7</text>
<text transform="translate(68.90 423.40) scale(1 1.07)" text-anchor="end" font-size="13.2">0</text>
<text transform="translate(68.90 407.64) scale(1 1.07)" text-anchor="end" font-size="13.2">1·10<tspan dy="-7.76" font-size="10">-9</tspan></text>
<text transform="translate(68.90 389.18) scale(1 1.07)" text-anchor="end" font-size="13.2">2·10<tspan dy="-7.76" font-size="10">-9</tspan></text>
<text transform="translate(68.90 370.72) scale(1 1.07)" text-anchor="end" font-size="13.2">3·10<tspan dy="-7.76" font-size="10">-9</tspan></text>
<text transform="translate(68.90 352.26) scale(1 1.07)" text-anchor="end" font-size="13.2">4·10<tspan dy="-7.76" font-size="10">-9</tspan></text>
<text transform="translate(68.90 333.80) scale(1 1.07)" text-anchor="end" font-size="13.2">5·10<tspan dy="-7.76" font-size="10">-9</tspan></text>
<text transform="translate(68.90 315.34) scale(1 1.07)" text-anchor="end" font-size="13.2">6·10<tspan dy="-7.76" font-size="10">-9</tspan></text>
<text transform="translate(68.90 296.88) scale(1 1.07)" text-anchor="end" font-size="13.2">7·10<tspan dy="-7.76" font-size="10">-9</tspan></text>
<text transform="translate(68.90 278.42) scale(1 1.07)" text-anchor="end" font-size="13.2">8·10<tspan dy="-7.76" font-size="10">-9</tspan></text>
<text transform="translate(68.90 259.96) scale(1 1.07)" text-anchor="end" font-size="13.2">9·10<tspan dy="-7.76" font-size="10">-9</tspan></text>
<text transform="translate(68.90 241.50) scale(1 1.07)" text-anchor="end" font-size="13.2">1·10<tspan dy="-7.76" font-size="10">-8</tspan></text>
<text transform="translate(19.3 326.50) rotate(-90)" text-anchor="middle" letter-spacing="0.05" font-size="17.3">Normalized flux (m s<tspan dy="-7.6" font-size="11">-1</tspan><tspan dy="7.6">)</tspan></text>
<text x="210.25" y="460.30" text-anchor="middle" letter-spacing="0.15" font-size="17.3">Time (days)</text>
<text x="89.70" y="258.40" font-size="17.3">B</text>
<text transform="translate(249.90 405.10) scale(1 1.07)" font-size="13.2">K<tspan dy="2.2" font-size="9">D</tspan><tspan dy="-2.2"> = 2 L kg</tspan><tspan dy="-6.6" font-size="9">-1</tspan></text>
</g>
<g id="panelD">
<path d="M406.00 418.20 L406.44 418.20 L406.88 418.20 L407.32 418.20 L407.76 418.12 L408.20 417.81 L408.63 417.07 L409.07 415.79 L409.51 414.00 L409.95 411.77 L410.39 409.22 L410.83 406.44 L411.27 403.54 L411.71 400.58 L412.15 397.64 L412.59 394.75 L413.03 391.94 L413.47 389.24 L413.90 386.66 L414.34 384.20 L414.78 381.88 L415.22 379.68 L415.66 377.62 L416.10 375.68 L416.54 373.86 L416.98 372.15 L417.42 370.56 L417.86 369.07 L418.30 367.67 L418.74 366.37 L419.18 365.16 L419.61 364.03 L420.05 362.97 L420.49 361.98 L420.93 361.06 L421.37 360.21 L421.81 359.41 L422.25 358.66 L422.69 357.97 L423.13 357.32 L423.57 356.72 L424.01 356.16 L424.44 355.64 L424.88 355.15 L425.32 354.69 L425.76 354.27 L426.20 353.88 L426.64 353.51 L427.08 353.17 L427.52 352.85 L427.96 352.55 L428.40 352.27 L428.84 352.01 L429.28 351.77 L429.71 351.55 L430.15 351.34 L430.59 351.15 L431.03 350.97 L431.47 350.80 L431.91 350.64 L432.35 350.49 L432.79 350.36 L433.23 350.23 L433.67 350.11 L434.11 350.00 L434.55 349.90 L434.99 349.80 L435.42 349.71 L435.86 349.63 L436.30 349.55 L436.74 349.48 L437.18 349.41 L437.62 349.35 L438.06 349.29 L438.50 349.24 L438.94 349.19 L439.38 349.14 L439.82 349.10 L440.25 349.05 L440.69 349.02 L441.13 348.98 L441.57 348.95 L442.01 348.92 L442.45 348.89 L442.89 348.86 L443.33 348.84 L443.77 348.81 L444.21 348.79 L444.65 348.77 L445.09 348.75 L445.52 348.73 L445.96 348.72 L446.40 348.70 L446.84 348.69 L447.28 348.68 L447.72 348.66 L448.16 348.65 L448.60 348.64 L449.04 348.63 L449.48 348.62 L449.92 348.61 L450.36 348.60 L450.80 348.60 L451.23 348.59 L451.67 348.58 L452.11 348.58 L452.55 348.57 L452.99 348.57 L453.43 348.56 L453.87 348.56 L454.31 348.55 L454.75 348.55 L455.19 348.55 L455.63 348.54 L456.06 348.54 L456.50 348.54 L456.94 348.53 L457.38 348.53 L457.82 348.53 L458.26 348.53 L458.70 348.52 L459.14 348.52 L459.58 348.52 L460.02 348.52 L460.46 348.52 L460.90 348.52 L461.33 348.51 L461.77 348.51 L462.21 348.51 L462.65 348.51 L463.09 348.51 L463.53 348.51 L463.97 348.51 L464.41 348.51 L464.85 348.51 L465.29 348.50 L465.73 348.50 L466.17 348.50 L466.61 348.50 L467.04 348.50 L467.48 348.50 L467.92 348.50 L468.36 348.50 L468.80 348.50 L469.24 348.50 L469.68 348.50 L470.12 348.50 L470.56 348.50 L471.00 348.50 L471.44 348.50 L471.88 348.50 L472.31 348.50 L472.75 348.50 L473.19 348.50 L473.63 348.50 L474.07 348.50 L474.51 348.50 L474.95 348.50 L475.39 348.50 L475.83 348.50 L476.27 348.50 L476.71 348.50 L477.14 348.50 L477.58 348.50 L478.02 348.50 L478.46 348.50 L478.90 348.50 L479.34 348.50 L479.78 348.50 L480.22 348.50 L480.66 348.50 L481.10 348.50 L481.54 348.50 L481.98 348.50 L482.41 348.50 L482.85 348.50 L483.29 348.50 L483.73 348.50 L484.17 348.50 L484.61 348.50 L485.05 348.50 L485.49 348.50 L485.93 348.50 L486.37 348.50 L486.81 348.50 L487.25 348.50 L487.69 348.50 L488.12 348.50 L488.56 348.50 L489.00 348.50 L489.44 348.50 L489.88 348.50 L490.32 348.50 L490.76 348.50 L491.20 348.50 L491.64 348.50 L492.08 348.50 L492.52 348.50 L492.95 348.50 L493.39 348.50 L493.83 348.50 L494.27 348.50 L494.71 348.50 L495.15 348.50 L495.59 348.50 L496.03 348.50 L496.47 348.50 L496.91 348.50 L497.35 348.50 L497.79 348.50 L498.23 348.50 L498.66 348.50 L499.10 348.50 L499.54 348.50 L499.98 348.50 L500.42 348.50 L500.86 348.50 L501.30 348.50 L501.74 348.50 L502.18 348.50 L502.62 348.50 L503.06 348.50 L503.50 348.50 L503.93 348.50 L504.37 348.50 L504.81 348.50 L505.25 348.50 L505.69 348.50 L506.13 348.50 L506.57 348.50 L507.01 348.50 L507.45 348.50 L507.89 348.50 L508.33 348.50 L508.76 348.50 L509.20 348.50 L509.64 348.50 L510.08 348.50 L510.52 348.50 L510.96 348.50 L511.40 348.50 L511.84 348.50 L512.28 348.50 L512.72 348.50 L513.16 348.50 L513.60 348.50 L514.03 348.50 L514.47 348.50 L514.91 348.50 L515.35 348.50 L515.79 348.50 L516.23 348.50 L516.67 348.50 L517.11 348.50 L517.55 348.50 L517.99 348.50 L518.43 348.50 L518.87 348.50 L519.31 348.50 L519.74 348.50 L520.18 348.50 L520.62 348.50 L521.06 348.50 L521.50 348.50 L521.94 348.50 L522.38 348.50 L522.82 348.50 L523.26 348.50 L523.70 348.50 L524.14 348.50 L524.58 348.50 L525.01 348.50 L525.45 348.50 L525.89 348.50 L526.33 348.50 L526.77 348.50 L527.21 348.50 L527.65 348.50 L528.09 348.50 L528.53 348.50 L528.97 348.50 L529.41 348.50 L529.85 348.50 L530.28 348.50 L530.72 348.50 L531.16 348.50 L531.60 348.50 L532.04 348.50 L532.48 348.50 L532.92 348.50 L533.36 348.50 L533.80 348.50 L534.24 348.50 L534.68 348.50 L535.12 348.50 L535.55 348.50 L535.99 348.50 L536.43 348.50 L536.87 348.50 L537.31 348.50 L537.75 348.50 L538.19 348.50 L538.63 348.50 L539.07 348.50 L539.51 348.50 L539.95 348.50 L540.38 348.50 L540.82 348.50 L541.26 348.50 L541.70 348.50 L542.14 348.50 L542.58 348.50 L543.02 348.50 L543.46 348.50 L543.90 348.50 L544.34 348.50 L544.78 348.50 L545.22 348.50 L545.65 348.50 L546.09 348.50 L546.53 348.50 L546.97 348.50 L547.41 348.50 L547.85 348.50 L548.29 348.50 L548.73 348.50 L549.17 348.50 L549.61 348.50 L550.05 348.50 L550.49 348.50 L550.92 348.50 L551.36 348.50 L551.80 348.50 L552.24 348.50 L552.68 348.50 L553.12 348.50 L553.56 348.50 L554.00 348.50 L554.44 348.50 L554.88 348.50 L555.32 348.50 L555.76 348.50 L556.20 348.50 L556.63 348.50 L557.07 348.50 L557.51 348.50 L557.95 348.50 L558.39 348.50 L558.83 348.50 L559.27 348.50 L559.71 348.50 L560.15 348.50 L560.59 348.50 L561.03 348.50 L561.47 348.50 L561.90 348.50 L562.34 348.50 L562.78 348.50 L563.22 348.50 L563.66 348.50 L564.10 348.50 L564.54 348.50 L564.98 348.50 L565.42 348.50 L565.86 348.50 L566.30 348.50 L566.74 348.50 L567.17 348.50 L567.61 348.50 L568.05 348.50 L568.49 348.50 L568.93 348.50 L569.37 348.50 L569.81 348.50 L570.25 348.50 L570.69 348.50 L571.13 348.50 L571.57 348.50 L572.00 348.50 L572.44 348.50 L572.88 348.50 L573.32 348.50 L573.76 348.50 L574.20 348.50 L574.64 348.50 L575.08 348.50 L575.52 348.50 L575.96 348.50 L576.40 348.50 L576.84 348.50 L577.27 348.50 L577.71 348.50 L578.15 348.50 L578.59 348.50 L579.03 348.50 L579.47 348.50 L579.91 348.50 L580.35 348.50 L580.79 348.50 L581.23 348.50 L581.67 348.50 L582.11 348.50 L582.55 348.50 L582.98 348.50 L583.42 348.50 L583.86 348.50 L584.30 348.50 L584.74 348.50 L585.18 348.50 L585.62 348.50 L586.06 348.50 L586.50 348.50 L586.94 348.50 L587.38 348.50 L587.82 348.50 L588.25 348.50 L588.69 348.50 L589.13 348.50 L589.57 348.50 L590.01 348.50 L590.45 348.50 L590.89 348.50 L591.33 348.50 L591.77 348.50 L592.21 348.50 L592.65 348.50 L593.09 348.50 L593.52 348.50 L593.96 348.50 L594.40 348.50 L594.84 348.50 L595.28 348.50 L595.72 348.50 L596.16 348.50 L596.60 348.50 L597.04 348.50 L597.48 348.50 L597.92 348.50 L598.36 348.50 L598.79 348.50 L599.23 348.50 L599.67 348.50 L600.11 348.50 L600.55 348.50 L600.99 348.50 L601.43 348.50 L601.87 348.50 L602.31 348.50 L602.75 348.50 L603.19 348.50 L603.62 348.50 L604.06 348.50 L604.50 348.50 L604.94 348.50 L605.38 348.50 L605.82 348.50 L606.26 348.50 L606.70 348.50 L607.14 348.50 L607.58 348.50 L608.02 348.50 L608.46 348.50 L608.89 348.50 L609.33 348.50 L609.77 348.50 L610.21 348.50 L610.65 348.50 L611.09 348.50 L611.53 348.50 L611.97 348.50 L612.41 348.50 L612.85 348.50 L613.29 348.50 L613.73 348.50 L614.16 348.50 L614.60 348.50 L615.04 348.50 L615.48 348.50 L615.92 348.50 L616.36 348.50 L616.80 348.50 L617.24 348.50 L617.68 348.50 L618.12 348.50 L618.56 348.50 L619.00 348.50 L619.43 348.50 L619.87 348.50 L620.31 348.50 L620.75 348.50 L621.19 348.50 L621.63 348.50 L622.07 348.50 L622.51 348.50 L622.95 348.50 L623.39 348.50 L623.83 348.50 L624.27 348.50 L624.70 348.50 L625.14 348.50 L625.58 348.50 L626.02 348.50 L626.46 348.50 L626.90 348.50 L627.34 348.50 L627.78 348.50 L628.22 348.50 L628.66 348.50 L629.10 348.50 L629.54 348.50 L629.98 348.50 L630.41 348.50 L630.85 348.50 L631.29 348.50 L631.73 348.50 L632.17 348.50 L632.61 348.50 L633.05 348.50 L633.49 348.50 L633.93 348.50 L634.37 348.50 L634.81 348.50 L635.25 348.50 L635.68 348.50 L636.12 348.50 L636.56 348.50 L637.00 348.50 L637.44 348.50 L637.88 348.50 L638.32 348.50 L638.76 348.50 L639.20 348.50 L639.64 348.50 L640.08 348.50 L640.51 348.50 L640.95 348.50 L641.39 348.50 L641.83 348.50 L642.27 348.50 L642.71 348.50 L643.15 348.50 L643.59 348.50 L644.03 348.50 L644.47 348.50 L644.91 348.50 L645.35 348.50 L645.78 348.50 L646.22 348.50 L646.66 348.50 L647.10 348.50 L647.54 348.50 L647.98 348.50 L648.42 348.50 L648.86 348.50 L649.30 348.50 L649.74 348.50 L650.18 348.50 L650.62 348.50 L651.05 348.50 L651.49 348.50 L651.93 348.50 L652.37 348.50 L652.81 348.50 L653.25 348.50 L653.69 348.50 L654.13 348.50 L654.57 348.50 L655.01 348.50 L655.45 348.50 L655.89 348.50 L656.33 348.50 L656.76 348.50 L657.20 348.50 L657.64 348.50 L658.08 348.50 L658.52 348.50 L658.96 348.50 L659.40 348.50 L659.84 348.50 L660.28 348.50 L660.72 348.50 L661.16 348.50 L661.60 348.50 L662.03 348.50 L662.47 348.50 L662.91 348.50 L663.35 348.50 L663.79 348.50 L664.23 348.50 L664.67 348.50 L665.11 348.50 L665.55 348.50 L665.99 348.50 L666.43 348.50 L666.87 348.50 L667.30 348.50 L667.74 348.50 L668.18 348.50 L668.62 348.50 L669.06 348.50 L669.50 348.50" stroke="#000" stroke-width="0.95" fill="none" stroke-linejoin="round"/>
<path d="M414.26 385.78 L424.27 335.35 L432.00 350.05 L439.90 307.44 L447.98 347.90 L457.47 336.39 L466.96 345.62 L475.39 332.55 L483.12 345.84 L492.95 342.14 L501.04 342.88 L511.93 345.62 L522.47 336.24 L534.06 346.21 L543.20 240.25 L544.43 343.70 L552.86 347.31 L561.29 312.17 L569.72 347.31 L583.77 342.14 L591.15 325.60 L594.84 344.14 L603.45 346.72 L614.69 342.51 L627.52 345.17 L637.88 319.99 L641.04 344.14 L644.91 338.90 L654.22 347.31 L666.51 340.67" stroke="#000" stroke-width="1.05" fill="none" stroke-dasharray="1.4 3.1" stroke-linejoin="round"/>
<circle cx="414.26" cy="385.78" r="2.65" fill="none" stroke="#000" stroke-width="0.9"/>
<rect x="413.76" y="385.28" width="1" height="1" fill="#000" opacity="0.8"/>
<circle cx="424.27" cy="335.35" r="2.65" fill="none" stroke="#000" stroke-width="0.9"/>
<rect x="423.77" y="334.85" width="1" height="1" fill="#000" opacity="0.8"/>
<circle cx="432.00" cy="350.05" r="2.65" fill="none" stroke="#000" stroke-width="0.9"/>
<rect x="431.50" y="349.55" width="1" height="1" fill="#000" opacity="0.8"/>
<circle cx="439.90" cy="307.44" r="2.65" fill="none" stroke="#000" stroke-width="0.9"/>
<rect x="439.40" y="306.94" width="1" height="1" fill="#000" opacity="0.8"/>
<circle cx="447.98" cy="347.90" r="2.65" fill="none" stroke="#000" stroke-width="0.9"/>
<rect x="447.48" y="347.40" width="1" height="1" fill="#000" opacity="0.8"/>
<circle cx="457.47" cy="336.39" r="2.65" fill="none" stroke="#000" stroke-width="0.9"/>
<rect x="456.97" y="335.89" width="1" height="1" fill="#000" opacity="0.8"/>
<circle cx="466.96" cy="345.62" r="2.65" fill="none" stroke="#000" stroke-width="0.9"/>
<rect x="466.46" y="345.12" width="1" height="1" fill="#000" opacity="0.8"/>
<circle cx="475.39" cy="332.55" r="2.65" fill="none" stroke="#000" stroke-width="0.9"/>
<rect x="474.89" y="332.05" width="1" height="1" fill="#000" opacity="0.8"/>
<circle cx="483.12" cy="345.84" r="2.65" fill="none" stroke="#000" stroke-width="0.9"/>
<rect x="482.62" y="345.34" width="1" height="1" fill="#000" opacity="0.8"/>
<circle cx="492.95" cy="342.14" r="2.65" fill="none" stroke="#000" stroke-width="0.9"/>
<rect x="492.45" y="341.64" width="1" height="1" fill="#000" opacity="0.8"/>
<circle cx="501.04" cy="342.88" r="2.65" fill="none" stroke="#000" stroke-width="0.9"/>
<rect x="500.54" y="342.38" width="1" height="1" fill="#000" opacity="0.8"/>
<circle cx="511.93" cy="345.62" r="2.65" fill="none" stroke="#000" stroke-width="0.9"/>
<rect x="511.43" y="345.12" width="1" height="1" fill="#000" opacity="0.8"/>
<circle cx="522.47" cy="336.24" r="2.65" fill="none" stroke="#000" stroke-width="0.9"/>
<rect x="521.97" y="335.74" width="1" height="1" fill="#000" opacity="0.8"/>
<circle cx="534.06" cy="346.21" r="2.65" fill="none" stroke="#000" stroke-width="0.9"/>
<rect x="533.56" y="345.71" width="1" height="1" fill="#000" opacity="0.8"/>
<circle cx="543.20" cy="240.25" r="2.65" fill="none" stroke="#000" stroke-width="0.9"/>
<rect x="542.70" y="239.75" width="1" height="1" fill="#000" opacity="0.8"/>
<circle cx="544.43" cy="343.70" r="2.65" fill="none" stroke="#000" stroke-width="0.9"/>
<rect x="543.93" y="343.20" width="1" height="1" fill="#000" opacity="0.8"/>
<circle cx="552.86" cy="347.31" r="2.65" fill="none" stroke="#000" stroke-width="0.9"/>
<rect x="552.36" y="346.81" width="1" height="1" fill="#000" opacity="0.8"/>
<circle cx="561.29" cy="312.17" r="2.65" fill="none" stroke="#000" stroke-width="0.9"/>
<rect x="560.79" y="311.67" width="1" height="1" fill="#000" opacity="0.8"/>
<circle cx="569.72" cy="347.31" r="2.65" fill="none" stroke="#000" stroke-width="0.9"/>
<rect x="569.22" y="346.81" width="1" height="1" fill="#000" opacity="0.8"/>
<circle cx="583.77" cy="342.14" r="2.65" fill="none" stroke="#000" stroke-width="0.9"/>
<rect x="583.27" y="341.64" width="1" height="1" fill="#000" opacity="0.8"/>
<circle cx="591.15" cy="325.60" r="2.65" fill="none" stroke="#000" stroke-width="0.9"/>
<rect x="590.65" y="325.10" width="1" height="1" fill="#000" opacity="0.8"/>
<circle cx="594.84" cy="344.14" r="2.65" fill="none" stroke="#000" stroke-width="0.9"/>
<rect x="594.34" y="343.64" width="1" height="1" fill="#000" opacity="0.8"/>
<circle cx="603.45" cy="346.72" r="2.65" fill="none" stroke="#000" stroke-width="0.9"/>
<rect x="602.95" y="346.22" width="1" height="1" fill="#000" opacity="0.8"/>
<circle cx="614.69" cy="342.51" r="2.65" fill="none" stroke="#000" stroke-width="0.9"/>
<rect x="614.19" y="342.01" width="1" height="1" fill="#000" opacity="0.8"/>
<circle cx="627.52" cy="345.17" r="2.65" fill="none" stroke="#000" stroke-width="0.9"/>
<rect x="627.02" y="344.67" width="1" height="1" fill="#000" opacity="0.8"/>
<circle cx="637.88" cy="319.99" r="2.65" fill="none" stroke="#000" stroke-width="0.9"/>
<rect x="637.38" y="319.49" width="1" height="1" fill="#000" opacity="0.8"/>
<circle cx="641.04" cy="344.14" r="2.65" fill="none" stroke="#000" stroke-width="0.9"/>
<rect x="640.54" y="343.64" width="1" height="1" fill="#000" opacity="0.8"/>
<circle cx="644.91" cy="338.90" r="2.65" fill="none" stroke="#000" stroke-width="0.9"/>
<rect x="644.41" y="338.40" width="1" height="1" fill="#000" opacity="0.8"/>
<circle cx="654.22" cy="347.31" r="2.65" fill="none" stroke="#000" stroke-width="0.9"/>
<rect x="653.72" y="346.81" width="1" height="1" fill="#000" opacity="0.8"/>
<circle cx="666.51" cy="340.67" r="2.65" fill="none" stroke="#000" stroke-width="0.9"/>
<rect x="666.01" y="340.17" width="1" height="1" fill="#000" opacity="0.8"/>
<rect x="429.45" y="347.27" width="5.1" height="5.1" fill="none" stroke="#000" stroke-width="0.9"/>
<rect x="431.50" y="349.32" width="1" height="1" fill="#000" opacity="0.8"/>
<rect x="445.43" y="344.91" width="5.1" height="5.1" fill="none" stroke="#000" stroke-width="0.9"/>
<rect x="447.48" y="346.96" width="1" height="1" fill="#000" opacity="0.8"/>
<rect x="464.41" y="344.91" width="5.1" height="5.1" fill="none" stroke="#000" stroke-width="0.9"/>
<rect x="466.46" y="346.96" width="1" height="1" fill="#000" opacity="0.8"/>
<rect x="480.57" y="344.91" width="5.1" height="5.1" fill="none" stroke="#000" stroke-width="0.9"/>
<rect x="482.62" y="346.96" width="1" height="1" fill="#000" opacity="0.8"/>
<rect x="509.38" y="344.91" width="5.1" height="5.1" fill="none" stroke="#000" stroke-width="0.9"/>
<rect x="511.43" y="346.96" width="1" height="1" fill="#000" opacity="0.8"/>
<rect x="531.51" y="344.91" width="5.1" height="5.1" fill="none" stroke="#000" stroke-width="0.9"/>
<rect x="533.56" y="346.96" width="1" height="1" fill="#000" opacity="0.8"/>
<rect x="550.31" y="344.91" width="5.1" height="5.1" fill="none" stroke="#000" stroke-width="0.9"/>
<rect x="552.36" y="346.96" width="1" height="1" fill="#000" opacity="0.8"/>
<rect x="567.17" y="344.91" width="5.1" height="5.1" fill="none" stroke="#000" stroke-width="0.9"/>
<rect x="569.22" y="346.96" width="1" height="1" fill="#000" opacity="0.8"/>
<rect x="592.29" y="344.91" width="5.1" height="5.1" fill="none" stroke="#000" stroke-width="0.9"/>
<rect x="594.34" y="346.96" width="1" height="1" fill="#000" opacity="0.8"/>
<rect x="600.90" y="344.91" width="5.1" height="5.1" fill="none" stroke="#000" stroke-width="0.9"/>
<rect x="602.95" y="346.96" width="1" height="1" fill="#000" opacity="0.8"/>
<rect x="638.49" y="344.91" width="5.1" height="5.1" fill="none" stroke="#000" stroke-width="0.9"/>
<rect x="640.54" y="346.96" width="1" height="1" fill="#000" opacity="0.8"/>
<rect x="651.67" y="344.91" width="5.1" height="5.1" fill="none" stroke="#000" stroke-width="0.9"/>
<rect x="653.72" y="346.96" width="1" height="1" fill="#000" opacity="0.8"/>
<path d="M414.26 385.78 L424.27 355.07 L439.90 348.50 L447.98 348.50 L457.47 348.50 L466.96 348.50 L475.39 348.50 L483.12 348.50 L492.95 348.50 L501.04 348.50 L511.93 348.50 L522.47 348.50 L534.06 348.50 L544.43 348.50 L561.29 348.50 L583.77 348.50 L591.15 348.50 L594.84 348.50 L603.45 348.50 L614.69 348.50 L627.52 348.50 L637.88 348.50 L641.04 348.50 L654.22 348.50 L666.51 348.50" stroke="#000" stroke-width="1.05" fill="none" stroke-dasharray="1.4 3.1" stroke-linejoin="round"/>
<path d="M414.26 382.68L416.86 387.38L411.66 387.38Z" fill="none" stroke="#000" stroke-width="0.95"/>
<rect x="413.76" y="385.28" width="1" height="1" fill="#000" opacity="0.8"/>
<path d="M424.27 351.97L426.87 356.67L421.67 356.67Z" fill="none" stroke="#000" stroke-width="0.95"/>
<rect x="423.77" y="354.57" width="1" height="1" fill="#000" opacity="0.8"/>
<path d="M439.90 345.40L442.50 350.10L437.30 350.10Z" fill="none" stroke="#000" stroke-width="0.95"/>
<rect x="439.40" y="348.00" width="1" height="1" fill="#000" opacity="0.8"/>
<path d="M447.98 345.40L450.58 350.10L445.38 350.10Z" fill="none" stroke="#000" stroke-width="0.95"/>
<rect x="447.48" y="348.00" width="1" height="1" fill="#000" opacity="0.8"/>
<path d="M457.47 345.40L460.07 350.10L454.87 350.10Z" fill="none" stroke="#000" stroke-width="0.95"/>
<rect x="456.97" y="348.00" width="1" height="1" fill="#000" opacity="0.8"/>
<path d="M466.96 345.40L469.56 350.10L464.36 350.10Z" fill="none" stroke="#000" stroke-width="0.95"/>
<rect x="466.46" y="348.00" width="1" height="1" fill="#000" opacity="0.8"/>
<path d="M475.39 345.40L477.99 350.10L472.79 350.10Z" fill="none" stroke="#000" stroke-width="0.95"/>
<rect x="474.89" y="348.00" width="1" height="1" fill="#000" opacity="0.8"/>
<path d="M483.12 345.40L485.72 350.10L480.52 350.10Z" fill="none" stroke="#000" stroke-width="0.95"/>
<rect x="482.62" y="348.00" width="1" height="1" fill="#000" opacity="0.8"/>
<path d="M492.95 345.40L495.56 350.10L490.35 350.10Z" fill="none" stroke="#000" stroke-width="0.95"/>
<rect x="492.45" y="348.00" width="1" height="1" fill="#000" opacity="0.8"/>
<path d="M501.04 345.40L503.64 350.10L498.44 350.10Z" fill="none" stroke="#000" stroke-width="0.95"/>
<rect x="500.54" y="348.00" width="1" height="1" fill="#000" opacity="0.8"/>
<path d="M511.93 345.40L514.53 350.10L509.33 350.10Z" fill="none" stroke="#000" stroke-width="0.95"/>
<rect x="511.43" y="348.00" width="1" height="1" fill="#000" opacity="0.8"/>
<path d="M522.47 345.40L525.07 350.10L519.87 350.10Z" fill="none" stroke="#000" stroke-width="0.95"/>
<rect x="521.97" y="348.00" width="1" height="1" fill="#000" opacity="0.8"/>
<path d="M534.06 345.40L536.66 350.10L531.46 350.10Z" fill="none" stroke="#000" stroke-width="0.95"/>
<rect x="533.56" y="348.00" width="1" height="1" fill="#000" opacity="0.8"/>
<path d="M544.43 345.40L547.03 350.10L541.83 350.10Z" fill="none" stroke="#000" stroke-width="0.95"/>
<rect x="543.93" y="348.00" width="1" height="1" fill="#000" opacity="0.8"/>
<path d="M561.29 345.40L563.89 350.10L558.69 350.10Z" fill="none" stroke="#000" stroke-width="0.95"/>
<rect x="560.79" y="348.00" width="1" height="1" fill="#000" opacity="0.8"/>
<path d="M583.77 345.40L586.37 350.10L581.17 350.10Z" fill="none" stroke="#000" stroke-width="0.95"/>
<rect x="583.27" y="348.00" width="1" height="1" fill="#000" opacity="0.8"/>
<path d="M591.15 345.40L593.75 350.10L588.55 350.10Z" fill="none" stroke="#000" stroke-width="0.95"/>
<rect x="590.65" y="348.00" width="1" height="1" fill="#000" opacity="0.8"/>
<path d="M594.84 345.40L597.44 350.10L592.24 350.10Z" fill="none" stroke="#000" stroke-width="0.95"/>
<rect x="594.34" y="348.00" width="1" height="1" fill="#000" opacity="0.8"/>
<path d="M603.45 345.40L606.05 350.10L600.85 350.10Z" fill="none" stroke="#000" stroke-width="0.95"/>
<rect x="602.95" y="348.00" width="1" height="1" fill="#000" opacity="0.8"/>
<path d="M614.69 345.40L617.29 350.10L612.09 350.10Z" fill="none" stroke="#000" stroke-width="0.95"/>
<rect x="614.19" y="348.00" width="1" height="1" fill="#000" opacity="0.8"/>
<path d="M627.52 345.40L630.12 350.10L624.92 350.10Z" fill="none" stroke="#000" stroke-width="0.95"/>
<rect x="627.02" y="348.00" width="1" height="1" fill="#000" opacity="0.8"/>
<path d="M637.88 345.40L640.48 350.10L635.28 350.10Z" fill="none" stroke="#000" stroke-width="0.95"/>
<rect x="637.38" y="348.00" width="1" height="1" fill="#000" opacity="0.8"/>
<path d="M641.04 345.40L643.64 350.10L638.44 350.10Z" fill="none" stroke="#000" stroke-width="0.95"/>
<rect x="640.54" y="348.00" width="1" height="1" fill="#000" opacity="0.8"/>
<path d="M654.22 345.40L656.82 350.10L651.62 350.10Z" fill="none" stroke="#000" stroke-width="0.95"/>
<rect x="653.72" y="348.00" width="1" height="1" fill="#000" opacity="0.8"/>
<path d="M666.51 345.40L669.11 350.10L663.91 350.10Z" fill="none" stroke="#000" stroke-width="0.95"/>
<rect x="666.01" y="348.00" width="1" height="1" fill="#000" opacity="0.8"/>
<rect x="406.0" y="233.6" width="263.50" height="184.60" fill="none" stroke="#000" stroke-width="1"/>
<path d="M406.00 418.2v-5.4M406.00 233.6v5.4M423.57 418.2v-2.8M423.57 233.6v2.8M441.13 418.2v-5.4M441.13 233.6v5.4M458.70 418.2v-2.8M458.70 233.6v2.8M476.27 418.2v-5.4M476.27 233.6v5.4M493.83 418.2v-2.8M493.83 233.6v2.8M511.40 418.2v-5.4M511.40 233.6v5.4M528.97 418.2v-2.8M528.97 233.6v2.8M546.53 418.2v-5.4M546.53 233.6v5.4M564.10 418.2v-2.8M564.10 233.6v2.8M581.67 418.2v-5.4M581.67 233.6v5.4M599.23 418.2v-2.8M599.23 233.6v2.8M616.80 418.2v-5.4M616.80 233.6v5.4M634.37 418.2v-2.8M634.37 233.6v2.8M651.93 418.2v-5.4M651.93 233.6v5.4M669.50 418.2v-2.8M669.50 233.6v2.8M406.0 418.20h5.4M669.5 418.20h-5.4M406.0 399.74h2.8M669.5 399.74h-2.8M406.0 381.28h5.4M669.5 381.28h-5.4M406.0 362.82h2.8M669.5 362.82h-2.8M406.0 344.36h5.4M669.5 344.36h-5.4M406.0 325.90h2.8M669.5 325.90h-2.8M406.0 307.44h5.4M669.5 307.44h-5.4M406.0 288.98h2.8M669.5 288.98h-2.8M406.0 270.52h5.4M669.5 270.52h-5.4M406.0 252.06h2.8M669.5 252.06h-2.8M406.0 233.60h5.4M669.5 233.60h-5.4" stroke="#000" stroke-width="1" fill="none"/>
<text transform="translate(406.00 437.70) scale(1 1.07)" text-anchor="middle" font-size="13.2">0</text>
<text transform="translate(441.13 437.70) scale(1 1.07)" text-anchor="middle" font-size="13.2">2</text>
<text transform="translate(476.27 437.70) scale(1 1.07)" text-anchor="middle" font-size="13.2">4</text>
<text transform="translate(511.40 437.70) scale(1 1.07)" text-anchor="middle" font-size="13.2">6</text>
<text transform="translate(546.53 437.70) scale(1 1.07)" text-anchor="middle" font-size="13.2">8</text>
<text transform="translate(581.67 437.70) scale(1 1.07)" text-anchor="middle" font-size="13.2">10</text>
<text transform="translate(616.80 437.70) scale(1 1.07)" text-anchor="middle" font-size="13.2">12</text>
<text transform="translate(651.93 437.70) scale(1 1.07)" text-anchor="middle" font-size="13.2">14</text>
<text transform="translate(396.40 423.40) scale(1 1.07)" text-anchor="end" font-size="13.2">0</text>
<text transform="translate(396.40 389.18) scale(1 1.07)" text-anchor="end" font-size="13.2">5·10<tspan dy="-7.76" font-size="10">-9</tspan></text>
<text transform="translate(396.40 352.26) scale(1 1.07)" text-anchor="end" font-size="13.2">1·10<tspan dy="-7.76" font-size="10">-8</tspan></text>
<text transform="translate(396.40 315.34) scale(1 1.07)" text-anchor="end" font-size="13.2">1.5·10<tspan dy="-7.76" font-size="10">-8</tspan></text>
<text transform="translate(396.40 278.42) scale(1 1.07)" text-anchor="end" font-size="13.2">2·10<tspan dy="-7.76" font-size="10">-8</tspan></text>
<text transform="translate(396.40 241.50) scale(1 1.07)" text-anchor="end" font-size="13.2">2.5·10<tspan dy="-7.76" font-size="10">-8</tspan></text>
<text x="537.75" y="460.30" text-anchor="middle" letter-spacing="0.15" font-size="17.3">Time (days)</text>
<text x="417.20" y="258.40" font-size="17.3">D</text>
</g>
</svg>
</body></html>
